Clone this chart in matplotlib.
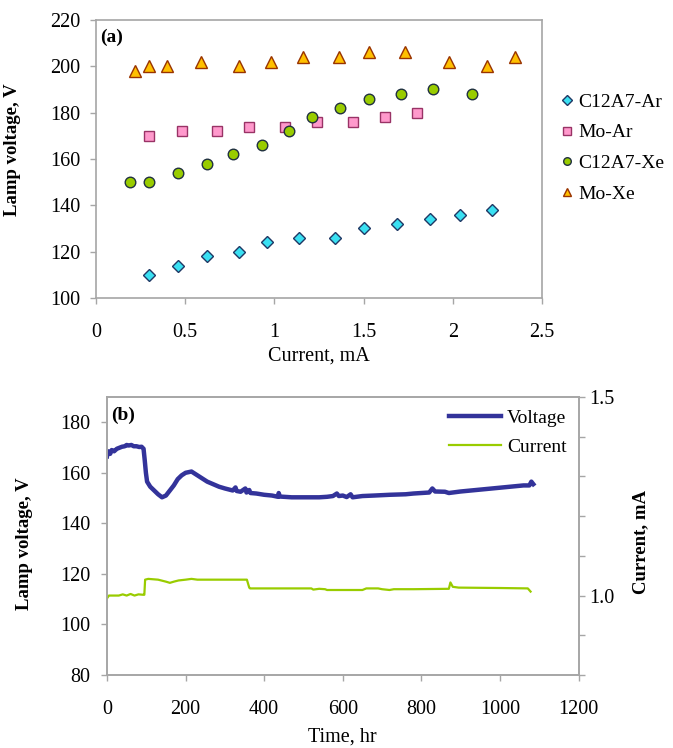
import matplotlib.pyplot as plt
from matplotlib.ticker import FuncFormatter, MultipleLocator

# (a) lamp voltage vs. discharge current
c12a7_ar_i = [0.30, 0.46, 0.62, 0.80, 0.96, 1.14, 1.34, 1.50, 1.69, 1.87, 2.04, 2.22]
c12a7_ar_v = [110, 114, 118, 120, 124, 126, 126, 130, 132, 134, 136, 138]

mo_ar_i = [0.30, 0.48, 0.68, 0.86, 1.06, 1.24, 1.44, 1.62, 1.80]
mo_ar_v = [170, 172, 172, 174, 174, 176, 176, 178, 180]

c12a7_xe_i = [0.19, 0.30, 0.46, 0.62, 0.77, 0.93, 1.08, 1.21, 1.37, 1.53, 1.71, 1.89, 2.11]
c12a7_xe_v = [150, 150, 154, 158, 162, 166, 172, 178, 182, 186, 188, 190, 188]

mo_xe_i = [0.22, 0.30, 0.40, 0.59, 0.80, 0.98, 1.16, 1.36, 1.53, 1.73, 1.98, 2.19, 2.35]
mo_xe_v = [198, 200, 200, 202, 200, 202, 204, 204, 206, 206, 202, 200, 204]

# (b) life test
time_v = [0, 3, 8, 12, 18, 25, 30, 38, 45, 50, 55, 62, 68, 75, 82, 88, 93,
          96, 99, 102, 110, 120, 130, 140, 150, 160, 170, 180, 190, 200, 215,
          225, 240, 255, 270, 285, 300, 320, 327, 330, 340, 352, 355, 362,
          365, 380, 400, 420, 435, 437, 440, 470, 500, 540, 560, 575, 585,
          590, 600, 610, 620, 625, 650, 680, 720, 760, 780, 800, 820, 828,
          835, 860, 870, 900, 940, 980, 1020, 1060, 1075, 1080, 1085]
voltage = [166.5, 168.5, 167.5, 169, 168.5, 169.5, 169.8, 170.3, 170.5, 171,
           170.8, 171, 170.5, 170.5, 170.2, 170.3, 169.5,
           165, 160, 156.5, 154.5, 153, 151.5, 150.3, 151, 153, 155, 157.5,
           159, 160, 160.5, 159.5, 158, 156.5, 155.5, 154.5, 153.8, 153,
           154.2, 152.8, 152.5, 153.8, 152.2, 153.2, 152, 151.8, 151.3, 151,
           150.5, 152, 150.6, 150.3, 150.3, 150.3, 150.5, 150.8, 151.8, 150.8,
           151, 150.4, 151.5, 150.3, 150.8, 151, 151.3, 151.5, 151.8, 152,
           152.2, 153.8, 152.6, 152.5, 152, 152.6, 153.2, 153.8, 154.4, 155,
           155, 156.5, 155.5]

time_i = [0, 5, 30, 40, 50, 60, 70, 80, 92, 95, 97, 105, 130, 150, 160, 170,
          182, 200, 215, 230, 300, 356, 362, 364, 500, 520, 525, 540, 555,
          560, 650, 660, 690, 700, 719, 730, 780, 870, 874, 880, 895, 1000,
          1071, 1078]
current = [0.993, 1.0, 1.0, 1.003, 1.0, 1.004, 1.0, 1.003, 1.002, 1.002,
           1.040, 1.042, 1.040, 1.035, 1.032, 1.035, 1.038, 1.040, 1.042,
           1.040, 1.040, 1.040, 1.020, 1.018, 1.018, 1.018, 1.015, 1.017,
           1.016, 1.014, 1.014, 1.018, 1.018, 1.016, 1.014, 1.016, 1.016,
           1.017, 1.033, 1.022, 1.020, 1.019, 1.018, 1.010]

FRAME = "#a6a6a6"
TICK_FS = 14.5
LABEL_FS = 13.5
plt.rcParams["font.family"] = ["Liberation Serif", "DejaVu Serif"]
plt.rcParams["font.size"] = TICK_FS


def style_axes(ax):
    for side in ax.spines.values():
        side.set_color(FRAME)
        side.set_linewidth(1.2)
    ax.tick_params(direction="out", length=4, width=1, color=FRAME, labelsize=TICK_FS)


fig = plt.figure(figsize=(6.73, 7.48), dpi=100)

# ---- panel (a)
ax1 = fig.add_axes([0.1426, 0.6016, 0.6627, 0.3717])
style_axes(ax1)
ax1.plot(c12a7_ar_i, c12a7_ar_v, "D", ms=6.6, mfc="#3ae0f2", mec="#1f3864", mew=1, label="C12A7-Ar")
ax1.plot(mo_ar_i, mo_ar_v, "s", ms=7.4, mfc="#ff99cc", mec="#993366", mew=1, label="Mo-Ar")
ax1.plot(c12a7_xe_i, c12a7_xe_v, "o", ms=7.6, mfc="#99cc00", mec="#203040", mew=1, label="C12A7-Xe")
ax1.plot(mo_xe_i, mo_xe_v, "^", ms=8.7, mfc="#ffc000", mec="#993300", mew=1, label="Mo-Xe")
ax1.set_xlim(0, 2.5)
ax1.set_ylim(100, 220)
ax1.xaxis.set_major_locator(MultipleLocator(0.5))
ax1.yaxis.set_major_locator(MultipleLocator(20))
ax1.xaxis.set_major_formatter(FuncFormatter(lambda x, p: f"{x:g}"))
ax1.tick_params(axis="x", pad=14)
ax1.tick_params(axis="y", pad=7.5)
ax1.set_xlabel("Current, mA", labelpad=3)
ax1.set_ylabel("Lamp voltage, V", fontweight="bold", fontsize=LABEL_FS)
ax1.yaxis.set_label_coords(-0.167, 0.533)
ax1.text(0.009, 0.97, "(a)", transform=ax1.transAxes, fontweight="bold", fontsize=14,
         va="top", ha="left")
ax1.legend(loc="upper left", bbox_to_anchor=(0.8336, 0.8757), bbox_transform=fig.transFigure,
           frameon=False, markerscale=0.72, handlelength=0.6, handletextpad=0.3,
           labelspacing=0.68, borderaxespad=0, borderpad=0, fontsize=14)

# ---- panel (b)
ax2 = fig.add_axes([0.159, 0.0976, 0.7006, 0.3717])
style_axes(ax2)
ax3 = ax2.twinx()
style_axes(ax3)
lv, = ax2.plot(time_v, voltage, color="#33339a", lw=3.2, label="Voltage")
li, = ax3.plot(time_i, current, color="#99cc00", lw=1.6, label="Current")
ax2.set_xlim(0, 1200)
ax2.set_ylim(80, 190)
ax2.xaxis.set_major_locator(MultipleLocator(200))
ax2.set_yticks([80, 100, 120, 140, 160, 180])
ax2.tick_params(axis="x", pad=14)
ax2.tick_params(axis="y", pad=8)
ax2.set_xlabel("Time, hr", labelpad=6)
ax2.set_ylabel("Lamp voltage, V", fontweight="bold", fontsize=LABEL_FS)
ax2.yaxis.set_label_coords(-0.156, 0.471)
ax3.set_ylim(0.8, 1.5)
ax3.yaxis.set_major_locator(MultipleLocator(0.5))
ax3.yaxis.set_minor_locator(MultipleLocator(0.1))
ax3.tick_params(axis="y", which="minor", direction="out", length=4, width=1, color=FRAME)
ax3.tick_params(axis="y", which="major", pad=3.5)
ax3.yaxis.set_major_formatter(FuncFormatter(lambda x, p: f"{x:.1f}"))
ax3.set_ylabel("Current, mA", fontweight="bold", fontsize=LABEL_FS)
ax3.yaxis.set_label_coords(1.1145, 0.48)
ax2.text(0.008, 0.965, "(b)", transform=ax2.transAxes, fontweight="bold", fontsize=14,
         va="top", ha="left")
ax2.legend(handles=[lv, li], loc="upper right", bbox_to_anchor=(0.975, 0.957), frameon=False,
           handlelength=2.7, handletextpad=0.3, labelspacing=0.6, borderaxespad=0,
           borderpad=0, fontsize=14)

fig.savefig("out.png", dpi=100)
